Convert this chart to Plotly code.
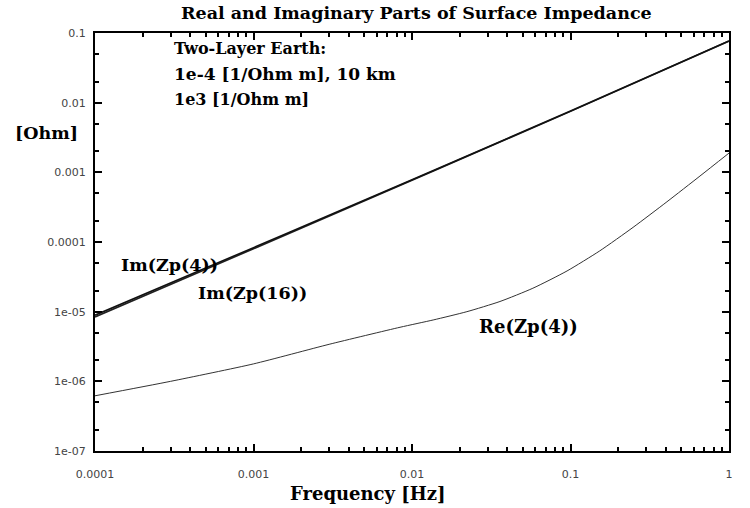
import plotly.graph_objects as go

# Frequencies [Hz]
freq_im = [1e-4, 1e-3, 1e-2, 1e-1, 1.0]
im_zp4 = [8.9e-6, 8.3e-5, 7.8e-4, 7.6e-3, 0.077]
im_zp16 = [8.4e-6, 8.0e-5, 7.7e-4, 7.5e-3, 0.0765]

freq_re = [1e-4, 3e-4, 1e-3, 3e-3, 0.0084, 0.0136, 0.0222, 0.0359, 0.0579, 0.0951,
           0.153, 0.248, 0.406, 0.656, 1.0]
re_zp4 = [6.2e-7, 1.0e-6, 1.78e-6, 3.4e-6, 5.97e-6, 7.6e-6, 1.0e-5, 1.4e-5, 2.17e-5,
          3.84e-5, 7.46e-5, 1.62e-4, 3.78e-4, 8.85e-4, 1.89e-3]

x_tickvals = [1e-4, 1e-3, 1e-2, 1e-1, 1]
x_ticktext = ["0.0001", "0.001", "0.01", "0.1", "1"]
y_tickvals = [1e-7, 1e-6, 1e-5, 1e-4, 1e-3, 1e-2, 1e-1]
y_ticktext = ["1e-07", "1e-06", "1e-05", "0.0001", "0.001", "0.01", "0.1"]

x_minor = [m * 10.0 ** e for e in range(-4, 0) for m in range(2, 10)]
y_minor = [m * 10.0 ** e for e in range(-7, -1) for m in (2, 5)]

W, H = 750, 508
L, R, T, B = 95, 21, 33, 57
pw, ph = W - L - R, H - T - B

fig = go.Figure()
fig.add_trace(go.Scatter(x=freq_im, y=im_zp16, mode="lines",
                         line=dict(color="#222", width=1.6, shape="spline"), showlegend=False))
fig.add_trace(go.Scatter(x=freq_im, y=im_zp4, mode="lines",
                         line=dict(color="#111", width=1.6, shape="spline"), showlegend=False))
fig.add_trace(go.Scatter(x=freq_re, y=re_zp4, mode="lines",
                         line=dict(color="#333", width=1, shape="spline", smoothing=0.6),
                         showlegend=False))
# invisible traces carrying the extra tick axes (minor ticks, top and right sides)
for k in (2, 3, 4):
    fig.add_trace(go.Scatter(x=freq_im, y=im_zp4, xaxis=f"x{k}", yaxis=f"y{k}", mode="lines",
                             line=dict(width=0), opacity=0, hoverinfo="skip", showlegend=False))

tickfont = dict(family="DejaVu Sans", size=11, color="#444")
base = dict(type="log", ticks="inside", tickcolor="black", tickwidth=2,
            showgrid=False, zeroline=False)
xr, yr = [-4, 0], [-7, -1]

fig.update_layout(
    xaxis=dict(range=xr, tickmode="array", tickvals=x_tickvals, ticktext=x_ticktext, ticklen=7,
               showline=True, linewidth=2, linecolor="black", tickfont=tickfont,
               ticklabelstandoff=12, **base),
    yaxis=dict(range=yr, tickmode="array", tickvals=y_tickvals, ticktext=y_ticktext, ticklen=7,
               showline=True, linewidth=2, linecolor="black", tickfont=tickfont,
               ticklabelstandoff=5, **base),
    xaxis2=dict(range=xr, overlaying="x", anchor="y2", side="bottom", tickmode="array",
                tickvals=x_minor, ticklen=4, showticklabels=False, showline=False, **base),
    xaxis3=dict(range=xr, overlaying="x", anchor="y3", side="top", tickmode="array",
                tickvals=x_tickvals, ticklen=7, showticklabels=False, showline=True,
                linewidth=2, linecolor="black", **base),
    xaxis4=dict(range=xr, overlaying="x", anchor="y4", side="top", tickmode="array",
                tickvals=x_minor, ticklen=4, showticklabels=False, showline=False, **base),
    yaxis2=dict(range=yr, overlaying="y", anchor="x2", side="left", tickmode="array",
                tickvals=y_minor, ticklen=4, showticklabels=False, showline=False, **base),
    yaxis3=dict(range=yr, overlaying="y", anchor="x3", side="right", tickmode="array",
                tickvals=y_tickvals, ticklen=7, showticklabels=False, showline=True,
                linewidth=2, linecolor="black", **base),
    yaxis4=dict(range=yr, overlaying="y", anchor="x4", side="right", tickmode="array",
                tickvals=y_minor, ticklen=4, showticklabels=False, showline=False, **base),
)

serif = "DejaVu Serif"
ann = []
def txt(s, x, y, size=17, xanchor="left"):
    ann.append(dict(text=s, x=x, y=y, xref="paper", yref="paper", xanchor=xanchor, yanchor="middle",
                    showarrow=False, font=dict(family=serif, size=size, color="black")))

def px(x):
    return (x - L) / pw
def py(y):
    return (H - B - y) / ph

txt("<b>Real and Imaginary Parts of Surface Impedance</b>", px(416), py(13), size=17.5, xanchor="center")
txt("<b>Two-Layer Earth:</b>", px(172), py(49), size=16)
txt("<b>1e-4 [1/Ohm m], 10 km</b>", px(172), py(74), size=17)
txt("<b>1e3 [1/Ohm m]</b>", px(172), py(99), size=16)
txt("<b>[Ohm]</b>", px(13), py(133), size=17.5)
txt("<b>Im(Zp(4))</b>", px(119), py(265), size=17.5)
txt("<b>Im(Zp(16))</b>", px(196), py(293), size=17.5)
txt("<b>Re(Zp(4))</b>", px(477), py(326), size=18)
txt("<b>Frequency [Hz]</b>", px(368), py(493), size=18, xanchor="center")

fig.update_layout(width=W, height=H, margin=dict(l=L, r=R, t=T, b=B),
                  plot_bgcolor="white", paper_bgcolor="white", annotations=ann)

fig.write_html("out.html")
